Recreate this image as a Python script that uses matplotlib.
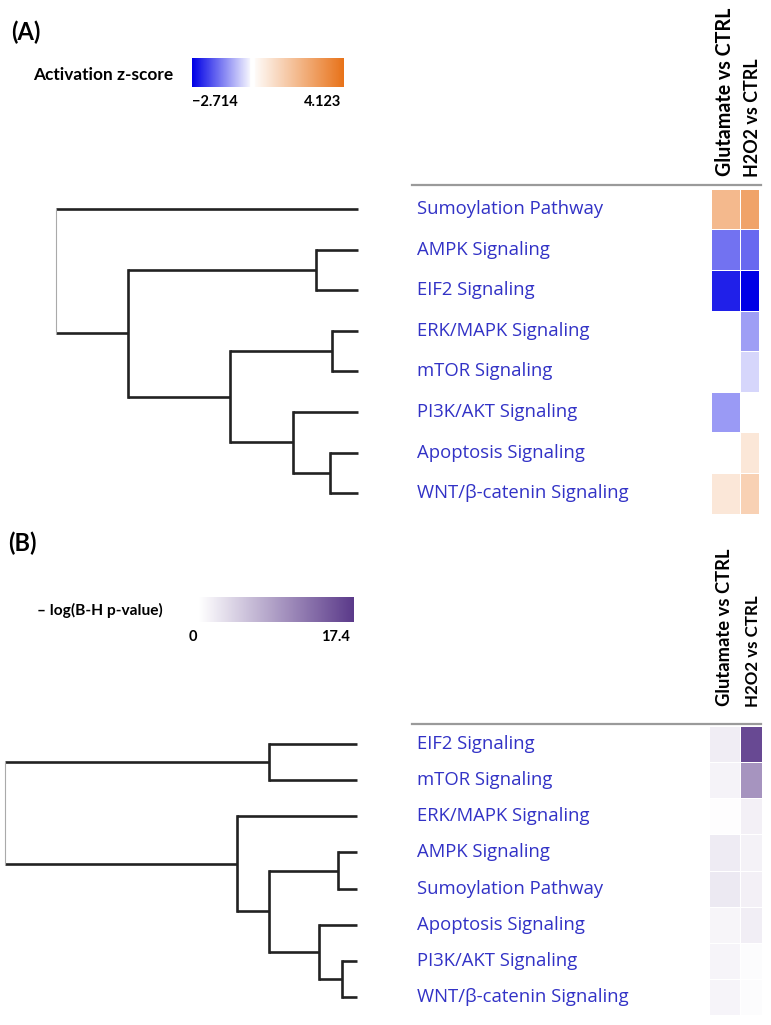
import numpy as np
import matplotlib
matplotlib.use("Agg")
import matplotlib.pyplot as plt
from matplotlib.colors import LinearSegmentedColormap, TwoSlopeNorm, Normalize

# ---- datos del panel A (z-score de activacion) ----
paths_a = ["Sumoylation Pathway", "AMPK Signaling", "EIF2 Signaling", "ERK/MAPK Signaling",
           "mTOR Signaling", "PI3K/AKT Signaling", "Apoptosis Signaling", "WNT/β-catenin Signaling"]
glut_a = [2.06, -1.49, -2.36, np.nan, np.nan, -1.07, np.nan, 0.7]
h2o2_a = [2.68, -1.60, -2.714, -1.03, -0.43, np.nan, 0.7, 1.33]
zmin, zmax = -2.714, 4.123
# (hijo1, hijo2, altura) estilo linkage, hojas 0..7
merges_a = [(6, 7, 28), (3, 4, 26), (1, 2, 42), (5, 8, 65), (9, 11, 128), (10, 12, 230), (0, 13, 302)]

# ---- datos del panel B (-log p) ----
paths_b = ["EIF2 Signaling", "mTOR Signaling", "ERK/MAPK Signaling", "AMPK Signaling",
           "Sumoylation Pathway", "Apoptosis Signaling", "PI3K/AKT Signaling", "WNT/β-catenin Signaling"]
glut_b = [1.6, 1.1, 0.2, 1.8, 2.0, 0.9, 1.0, 1.0]
h2o2_b = [16.0, 9.5, 1.3, 1.2, 1.3, 1.5, 0.3, 0.3]
pmax = 17.4
merges_b = [(6, 7, 15), (3, 4, 19), (5, 8, 38), (9, 10, 88), (0, 1, 88), (2, 11, 120), (12, 13, 352)]

columnas = ["Glutamate vs CTRL", "H2O2 vs CTRL"]

W, H = 771, 1025
fig = plt.figure(figsize=(W / 100, H / 100), dpi=100)
BOLD = ["Lato", "DejaVu Sans"]
LAB = ["Open Sans", "DejaVu Sans"]
azul = "#3232c6"

cmap_z = LinearSegmentedColormap.from_list("z", ["#0000e6", "#ffffff", "#e8731a"])
cmap_z.set_bad("white")
norm_z = TwoSlopeNorm(vmin=zmin, vcenter=0, vmax=zmax)
cmap_p = LinearSegmentedColormap.from_list("p", ["#ffffff", "#5b3a8a"])
norm_p = Normalize(0, pmax)


def caja(x0, y0, x1, y1):
    # convierte pixeles (origen arriba-izq) a fraccion de figura
    return [x0 / W, 1 - y1 / H, (x1 - x0) / W, (y1 - y0) / H]


def dendro(ax, merges, n):
    pos = {i: (0.0, float(i)) for i in range(n)}
    k = n
    for j, (a, b, h) in enumerate(merges):
        ha, ya = pos[a]
        hb, yb = pos[b]
        ax.plot([ha, h], [ya, ya], color="#222222", lw=1.9, solid_capstyle="butt", clip_on=False)
        ax.plot([hb, h], [yb, yb], color="#222222", lw=1.9, solid_capstyle="butt", clip_on=False)
        es_raiz = j == len(merges) - 1
        ax.plot([h, h], [ya, yb], color="#aaaaaa" if es_raiz else "#222222",
                lw=0.8 if es_raiz else 1.9, clip_on=False)
        pos[k] = (h, (ya + yb) / 2)
        k += 1


def panel(rows_top, rows_bot, root_px, leaf_px, merges, nombres, v1, v2, cmap, norm, col_x, linea_y):
    n = len(nombres)
    # dendrograma
    axd = fig.add_axes(caja(root_px, rows_top, leaf_px, rows_bot))
    dendro(axd, merges, n)
    axd.set_xlim(merges[-1][2], 0)
    axd.set_ylim(n - 0.5, -0.5)
    axd.axis("off")
    # etiquetas
    axl = fig.add_axes(caja(412, rows_top, 760, rows_bot))
    axl.set_ylim(n - 0.5, -0.5)
    axl.set_xlim(0, 1)
    axl.axis("off")
    for i, t in enumerate(nombres):
        axl.text(0.015, i, t, color=azul, fontsize=13.3, family=LAB, va="center", ha="left")
    fig.add_artist(plt.Line2D([412 / W, 761 / W], [1 - linea_y / H] * 2, color="#9a9a9a", lw=1.6))
    # mapa de calor
    axh = fig.add_axes(caja(col_x[0], rows_top, col_x[2], rows_bot))
    datos = np.ma.masked_invalid(np.array([v1, v2]).T)
    xe = np.array(col_x, dtype=float) - col_x[0]
    ye = np.arange(n + 1) - 0.5
    axh.pcolormesh(xe, ye, datos, cmap=cmap, norm=norm, edgecolors="white", linewidth=0.5)
    axh.set_xlim(xe[0], xe[-1])
    axh.set_ylim(n - 0.5, -0.5)
    axh.axis("off")


# ---------- Panel A ----------
fig.text(11 / W, 1 - 32 / H, "(A)", fontsize=17, fontweight="bold", family=BOLD, va="center")
fig.text(33 / W, 1 - 75 / H, "Activation z-score", fontsize=12.4, fontweight="bold", family=BOLD, va="center")
axc = fig.add_axes(caja(192, 58, 344, 87))
grad = np.linspace(zmin, zmax, 400)
grad = np.where((grad > -0.1) & (grad < 0.12), np.nan, grad)
axc.imshow(grad[None, :], aspect="auto", cmap=cmap_z, norm=norm_z, extent=[zmin, zmax, 0, 1])
axc.axis("off")
fig.text(215 / W, 1 - 102 / H, "−2.714", fontsize=10.5, fontweight="bold", family=BOLD, ha="center", va="center")
fig.text(323 / W, 1 - 102 / H, "4.123", fontsize=10.5, fontweight="bold", family=BOLD, ha="center", va="center")

panel(188.7, 513.5, 56, 358, merges_a, paths_a, glut_a, h2o2_a, cmap_z, norm_z, [711, 739.5, 759], 185)
fig.text(725 / W, 1 - 176 / H, columnas[0], rotation=90, fontsize=14.1, fontweight="bold",
         family=BOLD, ha="center", va="bottom")
fig.text(752.5 / W, 1 - 177 / H, columnas[1], rotation=90, fontsize=12.9, fontweight="bold",
         family=BOLD, ha="center", va="bottom")

# ---------- Panel B ----------
fig.text(8 / W, 1 - 543 / H, "(B)", fontsize=17, fontweight="bold", family=BOLD, va="center")
fig.text(37 / W, 1 - 610 / H, "– log(B-H p-value)", fontsize=11.2, fontweight="bold", family=BOLD, va="center")
axc2 = fig.add_axes(caja(199, 597, 354, 622))
axc2.imshow(np.linspace(0, pmax, 400)[None, :], aspect="auto", cmap=cmap_p, norm=norm_p,
            extent=[0, pmax, 0, 1])
axc2.axis("off")
fig.text(193 / W, 1 - 637 / H, "0", fontsize=10.5, fontweight="bold", family=BOLD, ha="center", va="center")
fig.text(335 / W, 1 - 637 / H, "17.4", fontsize=10.5, fontweight="bold", family=BOLD, ha="center", va="center")

panel(726, 1015, 5, 357, merges_b, paths_b, glut_b, h2o2_b, cmap_p, norm_p, [709, 740, 762], 724)
fig.text(725 / W, 1 - 706 / H, columnas[0], rotation=90, fontsize=13.2, fontweight="bold",
         family=BOLD, ha="center", va="bottom")
fig.text(753 / W, 1 - 707 / H, columnas[1], rotation=90, fontsize=12.2, fontweight="bold",
         family=BOLD, ha="center", va="bottom")

fig.savefig("out.png", dpi=100, facecolor="white")
